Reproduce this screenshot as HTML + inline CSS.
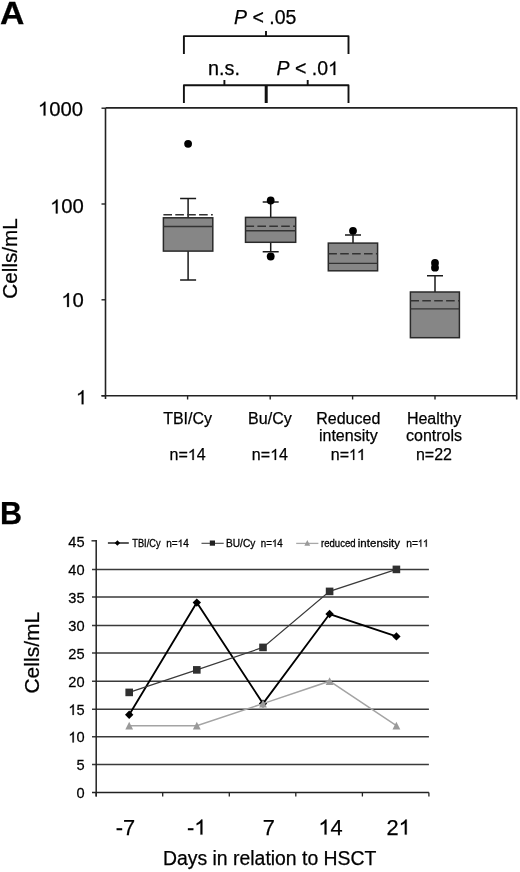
<!DOCTYPE html>
<html><head><meta charset="utf-8"><style>
html,body{margin:0;padding:0;background:#fff;width:520px;height:872px;overflow:hidden;}
svg{display:block;filter:grayscale(1);}
text{font-family:"Liberation Sans",sans-serif;fill:#000;stroke:#000;stroke-width:0.25px;}
.o{fill:none;stroke:none;}
</style></head><body>
<svg width="520" height="872" viewBox="0 0 520 872">
<text transform="translate(0.1,23.8) scale(1.09,1)" font-size="31" font-weight="bold">A</text>
<path d="M183.9 54 V36.1 H348.5 V54 M266 31 V36" stroke-width="1.9" stroke="#111" fill="none" stroke-linejoin="round"/>
<path d="M183.9 103 V85.2 H348.5 V103 M224.4 80 V85 M307.7 80 V85" stroke-width="1.9" stroke="#111" fill="none" stroke-linejoin="round"/>
<path d="M266.2 85 V103" stroke-width="3" stroke="#111" fill="none" stroke-linejoin="round"/>
<text x="234" y="23.5" font-size="19.5"><tspan font-style="italic">P</tspan> &lt; .05</text>
<text x="208" y="74.6" font-size="19.8">n.s.</text>
<text x="276.5" y="75" font-size="19.5"><tspan font-style="italic">P</tspan> &lt; .0<tspan class="o">1</tspan></text>
<path d="M105.5 107.9 H516.7 V399.5" stroke-width="1.6" stroke="#222" fill="none" stroke-linejoin="round"/>
<path d="M105.5 107.9 V399 M101.5 395.8 H516.7" stroke-width="1.6" stroke="#222" fill="none"/>
<path d="M101.5 108.2 H105.5" stroke-width="1.4" stroke="#222"/>
<path d="M101.5 204.0 H105.5" stroke-width="1.4" stroke="#222"/>
<path d="M101.5 299.8 H105.5" stroke-width="1.4" stroke="#222"/>
<path d="M101.5 395.8 H105.5" stroke-width="1.4" stroke="#222"/>
<text x="83.0" y="115.6" font-size="20.3" text-anchor="end"><tspan class="o">1</tspan>000</text>
<text x="83.9" y="213.4" font-size="20.3" text-anchor="end"><tspan class="o">1</tspan>00</text>
<text x="83.9" y="307.0" font-size="20.3" text-anchor="end"><tspan class="o">1</tspan>0</text>
<text x="87.2" y="404.3" font-size="20.3" text-anchor="end"><tspan class="o">1</tspan></text>
<path d="M187.6 395.8 V399.5" stroke-width="1.4" stroke="#222"/>
<path d="M270.2 395.8 V399.5" stroke-width="1.4" stroke="#222"/>
<path d="M352.6 395.8 V399.5" stroke-width="1.4" stroke="#222"/>
<path d="M435 395.8 V399.5" stroke-width="1.4" stroke="#222"/>
<text transform="translate(16.8,258.4) rotate(-90)" font-size="20.7" text-anchor="middle">Cells/mL</text>
<path d="M188.1 198.4 V217.8 M180.1 198.4 H196.1" stroke="#1a1a1a" stroke-width="1.5" fill="none"/>
<path d="M188.1 251.1 V280.1 M180.1 280.1 H196.1" stroke="#1a1a1a" stroke-width="1.5" fill="none"/>
<rect x="163.4" y="217.8" width="49.4" height="33.3" fill="#868686" stroke="#2a2a2a" stroke-width="1.5"/>
<path d="M163.4 226.5 H212.8" stroke="#333" stroke-width="1.4"/>
<path d="M163.4 214.7 H212.8" stroke="#333" stroke-width="1.6" stroke-dasharray="8.6 3.3"/>
<circle cx="188.1" cy="143.8" r="3.9" fill="#000"/>
<path d="M270.7 202.0 V217.4 M262.7 202.0 H278.7" stroke="#1a1a1a" stroke-width="1.5" fill="none"/>
<path d="M270.7 242.3 V251.8 M262.7 251.8 H278.7" stroke="#1a1a1a" stroke-width="1.5" fill="none"/>
<rect x="245.5" y="217.4" width="50.2" height="24.9" fill="#868686" stroke="#2a2a2a" stroke-width="1.5"/>
<path d="M245.5 230.8 H295.7" stroke="#333" stroke-width="1.4"/>
<path d="M245.5 226.2 H295.7" stroke="#333" stroke-width="1.6" stroke-dasharray="8.6 3.3"/>
<circle cx="270.7" cy="200.5" r="3.9" fill="#000"/>
<circle cx="270.7" cy="256.5" r="3.9" fill="#000"/>
<path d="M353.0 235.1 V243.1 M345.0 235.1 H361.0" stroke="#1a1a1a" stroke-width="1.5" fill="none"/>
<rect x="328.3" y="243.1" width="49.3" height="27.7" fill="#868686" stroke="#2a2a2a" stroke-width="1.5"/>
<path d="M328.3 263.4 H377.6" stroke="#333" stroke-width="1.4"/>
<path d="M328.3 253.8 H377.6" stroke="#333" stroke-width="1.6" stroke-dasharray="8.6 3.3"/>
<circle cx="353.0" cy="230.8" r="3.9" fill="#000"/>
<path d="M435.0 275.8 V292.0 M427.0 275.8 H443.0" stroke="#1a1a1a" stroke-width="1.5" fill="none"/>
<rect x="410.4" y="292.0" width="49.0" height="45.7" fill="#868686" stroke="#2a2a2a" stroke-width="1.5"/>
<path d="M410.4 308.9 H459.4" stroke="#333" stroke-width="1.4"/>
<path d="M410.4 300.8 H459.4" stroke="#333" stroke-width="1.6" stroke-dasharray="8.6 3.3"/>
<circle cx="435.0" cy="263.0" r="3.9" fill="#000"/>
<circle cx="435.0" cy="267.7" r="3.9" fill="#000"/>
<text x="187.6" y="424.3" font-size="16" text-anchor="middle">TBI/Cy</text>
<text x="187.6" y="459.9" font-size="16" text-anchor="middle">n=<tspan class="o">1</tspan>4</text>
<text x="269.9" y="424.3" font-size="16" text-anchor="middle">Bu/Cy</text>
<text x="269.9" y="459.9" font-size="16" text-anchor="middle">n=<tspan class="o">1</tspan>4</text>
<text x="348.3" y="424.3" font-size="16" text-anchor="middle">Reduced</text>
<text x="348.3" y="441.4" font-size="16" text-anchor="middle">intensity</text>
<text x="348.3" y="459.9" font-size="16" text-anchor="middle">n=<tspan class="o">1</tspan><tspan class="o">1</tspan></text>
<text x="434.0" y="424.3" font-size="16" text-anchor="middle">Healthy</text>
<text x="434.0" y="441.4" font-size="16" text-anchor="middle">controls</text>
<text x="434.0" y="459.9" font-size="16" text-anchor="middle">n=22</text>
<text x="0" y="523.8" font-size="30.5" font-weight="bold">B</text>
<path d="M92 764.4 H428.9" stroke="#3a3a3a" stroke-width="1.5"/>
<path d="M92 736.7 H428.9" stroke="#3a3a3a" stroke-width="1.5"/>
<path d="M92 709.2 H428.9" stroke="#3a3a3a" stroke-width="1.5"/>
<path d="M92 681.2 H428.9" stroke="#3a3a3a" stroke-width="1.5"/>
<path d="M92 652.9 H428.9" stroke="#3a3a3a" stroke-width="1.5"/>
<path d="M92 625.4 H428.9" stroke="#3a3a3a" stroke-width="1.5"/>
<path d="M92 596.9 H428.9" stroke="#3a3a3a" stroke-width="1.5"/>
<path d="M92 569.4 H428.9" stroke="#3a3a3a" stroke-width="1.5"/>
<path d="M91.5 540.8 H96.2" stroke="#333" stroke-width="1.5"/>
<path d="M92 792.4 H428.9" stroke="#222" stroke-width="1.5"/>
<path d="M96.2 540.1 V796.5" stroke="#222" stroke-width="1.5"/>
<path d="M96.2 792.4 V796.5" stroke="#222" stroke-width="1.3"/>
<path d="M162.7 792.4 V796.5" stroke="#222" stroke-width="1.3"/>
<path d="M229.3 792.4 V796.5" stroke="#222" stroke-width="1.3"/>
<path d="M295.8 792.4 V796.5" stroke="#222" stroke-width="1.3"/>
<path d="M362.4 792.4 V796.5" stroke="#222" stroke-width="1.3"/>
<path d="M428.9 792.4 V796.5" stroke="#222" stroke-width="1.3"/>
<text transform="translate(84.6,798.1) scale(0.95,1)" font-size="15.4" text-anchor="end">0</text>
<text transform="translate(84.6,770.1) scale(0.95,1)" font-size="15.4" text-anchor="end">5</text>
<text transform="translate(84.6,742.4) scale(0.95,1)" font-size="15.4" text-anchor="end"><tspan class="o">1</tspan>0</text>
<text transform="translate(84.6,714.9) scale(0.95,1)" font-size="15.4" text-anchor="end"><tspan class="o">1</tspan>5</text>
<text transform="translate(84.6,686.9) scale(0.95,1)" font-size="15.4" text-anchor="end">20</text>
<text transform="translate(84.6,658.6) scale(0.95,1)" font-size="15.4" text-anchor="end">25</text>
<text transform="translate(84.6,631.1) scale(0.95,1)" font-size="15.4" text-anchor="end">30</text>
<text transform="translate(84.6,602.6) scale(0.95,1)" font-size="15.4" text-anchor="end">35</text>
<text transform="translate(84.6,575.1) scale(0.95,1)" font-size="15.4" text-anchor="end">40</text>
<text transform="translate(84.6,546.5) scale(0.95,1)" font-size="15.4" text-anchor="end">45</text>
<text transform="translate(39.2,652.7) rotate(-90)" font-size="21" text-anchor="middle">Cells/mL</text>
<text x="125.4" y="834.6" font-size="21.8" text-anchor="middle">-7</text>
<text x="196.7" y="834.6" font-size="21.8" text-anchor="middle">-<tspan class="o">1</tspan></text>
<text x="268.8" y="834.6" font-size="21.8" text-anchor="middle">7</text>
<text x="330.5" y="834.6" font-size="21.8" text-anchor="middle"><tspan class="o">1</tspan>4</text>
<text x="398.6" y="834.6" font-size="21.8" text-anchor="middle">2<tspan class="o">1</tspan></text>
<text x="163" y="865.4" font-size="19.4">Days in relation to HSCT</text>
<polyline points="129.2,714.7 196.8,602.6 263.0,703.6 329.6,614.0 396.4,636.4" fill="none" stroke="#000" stroke-width="1.85"/>
<path d="M129.2 710.5 L133.39999999999998 714.7 L129.2 718.9000000000001 L124.99999999999999 714.7Z" fill="#000"/>
<path d="M196.8 598.4 L201.0 602.6 L196.8 606.8000000000001 L192.60000000000002 602.6Z" fill="#000"/>
<path d="M263.0 699.4 L267.2 703.6 L263.0 707.8000000000001 L258.8 703.6Z" fill="#000"/>
<path d="M329.6 609.8 L333.8 614.0 L329.6 618.2 L325.40000000000003 614.0Z" fill="#000"/>
<path d="M396.4 632.1999999999999 L400.59999999999997 636.4 L396.4 640.6 L392.2 636.4Z" fill="#000"/>
<polyline points="129.2,692.4 196.8,669.9 263.0,647.4 329.6,591.4 396.4,569.4" fill="none" stroke="#3a3a3a" stroke-width="1.2"/>
<rect x="125.39999999999999" y="688.6000000000001" width="7.6" height="7.6" fill="#303030"/>
<rect x="193.0" y="666.08" width="7.6" height="7.6" fill="#303030"/>
<rect x="259.2" y="643.6" width="7.6" height="7.6" fill="#303030"/>
<rect x="325.8" y="587.6" width="7.6" height="7.6" fill="#303030"/>
<rect x="392.59999999999997" y="565.6" width="7.6" height="7.6" fill="#303030"/>
<polyline points="129.2,725.7 196.8,725.7 263.0,703.6 329.6,681.2 396.4,725.7" fill="none" stroke="#a4a4a4" stroke-width="1.5"/>
<path d="M129.2 721.80 L133.10 729.60 L125.30 729.60Z" fill="#9a9a9a"/>
<path d="M196.8 721.80 L200.70 729.60 L192.90 729.60Z" fill="#9a9a9a"/>
<path d="M263.0 699.70 L266.90 707.50 L259.10 707.50Z" fill="#9a9a9a"/>
<path d="M329.6 677.30 L333.50 685.10 L325.70 685.10Z" fill="#9a9a9a"/>
<path d="M396.4 721.80 L400.30 729.60 L392.50 729.60Z" fill="#9a9a9a"/>
<path d="M107.9 543 H128.8" stroke="#222" stroke-width="1.5"/>
<path d="M117.4 540.3 L120.10000000000001 543 L117.4 545.7 L114.7 543Z" fill="#000"/>
<text x="132.3" y="546.8" font-size="10.6" style="stroke-width:0.3px" textLength="28.2" lengthAdjust="spacingAndGlyphs">TBI/Cy</text>
<text x="166.2" y="546.8" font-size="10.6" style="stroke-width:0.3px" textLength="22.6" lengthAdjust="spacingAndGlyphs">n=<tspan class="o">1</tspan>4</text>
<path d="M201.5 543.3 H223.7" stroke="#444" stroke-width="1.1"/>
<rect x="209.8" y="540.5" width="5.2" height="5.2" fill="#222"/>
<text x="226.0" y="546.8" font-size="10.6" style="stroke-width:0.3px" textLength="29.3" lengthAdjust="spacingAndGlyphs">BU/Cy</text>
<text x="260.8" y="546.8" font-size="10.6" style="stroke-width:0.3px" textLength="22.0" lengthAdjust="spacingAndGlyphs">n=<tspan class="o">1</tspan>4</text>
<path d="M296.2 543.4 H318.4" stroke="#a8a8a8" stroke-width="1.3"/>
<path d="M307.3 539.90 L310.20 545.70 L304.40 545.70Z" fill="#9a9a9a"/>
<text x="321.0" y="546.8" font-size="10.6" style="stroke-width:0.3px" textLength="34.6" lengthAdjust="spacingAndGlyphs">reduced</text>
<text x="357.8" y="546.8" font-size="10.6" style="stroke-width:0.3px" textLength="42.3" lengthAdjust="spacingAndGlyphs">intensity</text>
<text x="406.3" y="546.8" font-size="10.6" style="stroke-width:0.3px" textLength="22.3" lengthAdjust="spacingAndGlyphs">n=<tspan class="o">1</tspan><tspan class="o">1</tspan></text>
<path transform="matrix(0.00953 0.00000 0.00000 -0.00952 328.02 75.00)" d="M763 0H583V1098Q518 1039 412 979Q307 920 223 890V1057Q374 1125 487 1221Q600 1318 647 1409H763Z" fill="#000" stroke="#000" stroke-width="26.3"/>
<path transform="matrix(0.00990 0.00000 0.00000 -0.00991 37.88 115.60)" d="M763 0H583V1098Q518 1039 412 979Q307 920 223 890V1057Q374 1125 487 1221Q600 1318 647 1409H763Z" fill="#000" stroke="#000" stroke-width="25.2"/>
<path transform="matrix(0.00990 0.00000 0.00000 -0.00991 50.06 213.40)" d="M763 0H583V1098Q518 1039 412 979Q307 920 223 890V1057Q374 1125 487 1221Q600 1318 647 1409H763Z" fill="#000" stroke="#000" stroke-width="25.2"/>
<path transform="matrix(0.00990 0.00000 0.00000 -0.00991 61.34 307.00)" d="M763 0H583V1098Q518 1039 412 979Q307 920 223 890V1057Q374 1125 487 1221Q600 1318 647 1409H763Z" fill="#000" stroke="#000" stroke-width="25.2"/>
<path transform="matrix(0.00990 0.00000 0.00000 -0.00991 75.92 404.30)" d="M763 0H583V1098Q518 1039 412 979Q307 920 223 890V1057Q374 1125 487 1221Q600 1318 647 1409H763Z" fill="#000" stroke="#000" stroke-width="25.2"/>
<path transform="matrix(0.00782 0.00000 0.00000 -0.00781 187.82 459.90)" d="M763 0H583V1098Q518 1039 412 979Q307 920 223 890V1057Q374 1125 487 1221Q600 1318 647 1409H763Z" fill="#000" stroke="#000" stroke-width="32.0"/>
<path transform="matrix(0.00782 0.00000 0.00000 -0.00781 270.12 459.90)" d="M763 0H583V1098Q518 1039 412 979Q307 920 223 890V1057Q374 1125 487 1221Q600 1318 647 1409H763Z" fill="#000" stroke="#000" stroke-width="32.0"/>
<path transform="matrix(0.00678 0.00000 0.00000 -0.00781 349.11 459.90)" d="M763 0H583V1098Q518 1039 412 979Q307 920 223 890V1057Q374 1125 487 1221Q600 1318 647 1409H763Z" fill="#000" stroke="#000" stroke-width="32.0"/>
<path transform="matrix(0.00782 0.00000 0.00000 -0.00781 356.83 459.90)" d="M763 0H583V1098Q518 1039 412 979Q307 920 223 890V1057Q374 1125 487 1221Q600 1318 647 1409H763Z" fill="#000" stroke="#000" stroke-width="32.0"/>
<path transform="matrix(0.00714 0.00000 0.00000 -0.00752 68.35 742.40)" d="M763 0H583V1098Q518 1039 412 979Q307 920 223 890V1057Q374 1125 487 1221Q600 1318 647 1409H763Z" fill="#000" stroke="#000" stroke-width="33.2"/>
<path transform="matrix(0.00714 0.00000 0.00000 -0.00752 68.35 714.90)" d="M763 0H583V1098Q518 1039 412 979Q307 920 223 890V1057Q374 1125 487 1221Q600 1318 647 1409H763Z" fill="#000" stroke="#000" stroke-width="33.2"/>
<path transform="matrix(0.01065 0.00000 0.00000 -0.01064 194.27 834.60)" d="M763 0H583V1098Q518 1039 412 979Q307 920 223 890V1057Q374 1125 487 1221Q600 1318 647 1409H763Z" fill="#000" stroke="#000" stroke-width="23.5"/>
<path transform="matrix(0.01065 0.00000 0.00000 -0.01064 318.38 834.60)" d="M763 0H583V1098Q518 1039 412 979Q307 920 223 890V1057Q374 1125 487 1221Q600 1318 647 1409H763Z" fill="#000" stroke="#000" stroke-width="23.5"/>
<path transform="matrix(0.01065 0.00000 0.00000 -0.01064 398.60 834.60)" d="M763 0H583V1098Q518 1039 412 979Q307 920 223 890V1057Q374 1125 487 1221Q600 1318 647 1409H763Z" fill="#000" stroke="#000" stroke-width="23.5"/>
<path transform="matrix(0.00490 0.00000 0.00000 -0.00518 177.63 546.80)" d="M763 0H583V1098Q518 1039 412 979Q307 920 223 890V1057Q374 1125 487 1221Q600 1318 647 1409H763Z" fill="#000" stroke="#000" stroke-width="58.0"/>
<path transform="matrix(0.00477 0.00000 0.00000 -0.00518 271.93 546.80)" d="M763 0H583V1098Q518 1039 412 979Q307 920 223 890V1057Q374 1125 487 1221Q600 1318 647 1409H763Z" fill="#000" stroke="#000" stroke-width="58.0"/>
<path transform="matrix(0.00433 0.00000 0.00000 -0.00518 417.97 546.80)" d="M763 0H583V1098Q518 1039 412 979Q307 920 223 890V1057Q374 1125 487 1221Q600 1318 647 1409H763Z" fill="#000" stroke="#000" stroke-width="58.0"/>
<path transform="matrix(0.00500 0.00000 0.00000 -0.00518 422.90 546.80)" d="M763 0H583V1098Q518 1039 412 979Q307 920 223 890V1057Q374 1125 487 1221Q600 1318 647 1409H763Z" fill="#000" stroke="#000" stroke-width="58.0"/>
</svg>
</body></html>
